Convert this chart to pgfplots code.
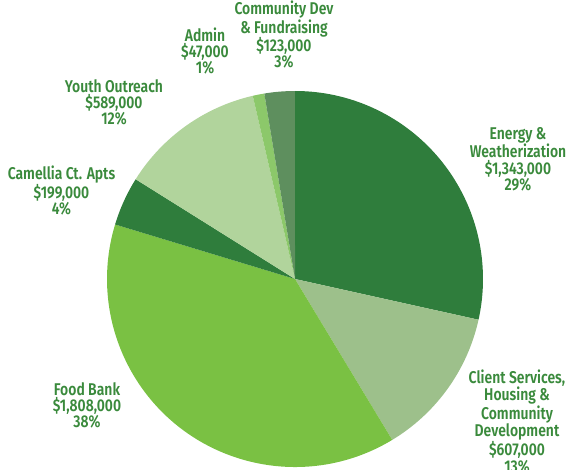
\documentclass[border=0pt]{standalone}
\usepackage{fontspec}
\setmainfont{Fira Sans}[FakeStretch=0.82, BoldFont={Fira Sans SemiBold}, BoldFeatures={FakeStretch=0.82}]
\usepackage{pgfplots}
\pgfplotsset{compat=1.18}
\definecolor{txt}{HTML}{3A8A3C}
\definecolor{cEnergy}{HTML}{2F7D3C}
\definecolor{cClient}{HTML}{9DC08B}
\definecolor{cFood}{HTML}{7AC143}
\definecolor{cCam}{HTML}{2F7D3C}
\definecolor{cYouth}{HTML}{B1D49C}
\definecolor{cAdmin}{HTML}{8CC86A}
\definecolor{cComm}{HTML}{5E8F5E}
% values in thousands of dollars
\def\vEnergy{1343}\def\vClient{607}\def\vFood{1808}\def\vCam{199}
\def\vYouth{589}\def\vAdmin{47}\def\vComm{123}
\pgfmathsetmacro\total{\vEnergy+\vClient+\vFood+\vCam+\vYouth+\vAdmin+\vComm}
\pgfmathsetmacro\aA{90}
\pgfmathsetmacro\aB{\aA-\vEnergy/\total*360}
\pgfmathsetmacro\aC{\aB-\vClient/\total*360}
\pgfmathsetmacro\aD{\aC-\vFood/\total*360}
\pgfmathsetmacro\aE{\aD-\vCam/\total*360}
\pgfmathsetmacro\aF{\aE-\vYouth/\total*360}
\pgfmathsetmacro\aG{\aF-\vAdmin/\total*360}
\pgfmathsetmacro\aH{\aG-\vComm/\total*360}
\newcommand\slice[3]{\fill[#3] (axis cs:295,190) -- (axis cs:{295+188*cos(#1)},{190+188*sin(#1)}) arc[start angle=#1, end angle=#2, radius=188pt] -- cycle;}
\begin{document}
\begin{tikzpicture}
\begin{axis}[x=1pt, y=1pt, xmin=0, xmax=569, ymin=0, ymax=469, hide axis, clip=false,
  scale only axis, anchor=origin, at={(0,0)}]
\path[use as bounding box] (axis cs:0,0) rectangle (axis cs:569,469);
\slice{\aA}{\aB}{cEnergy}
\slice{\aB}{\aC}{cClient}
\slice{\aC}{\aD}{cFood}
\slice{\aD}{\aE}{cCam}
\slice{\aE}{\aF}{cYouth}
\slice{\aF}{\aG}{cAdmin}
\slice{\aG}{\aH}{cComm}
\tikzset{lbl/.style={align=center, text=txt, font=\fontsize{17}{16}\selectfont\bfseries, inner sep=0pt, anchor=base}}
\node[lbl] at (axis cs:518,469-190) {Energy \&\\Weatherization\\\$1,343,000\\29\%};
\node[lbl, font=\fontsize{17}{17}\selectfont\bfseries] at (axis cs:517,469-472) {Client Services,\\Housing \&\\Community\\Development\\\$607,000\\13\%};
\node[lbl] at (axis cs:87,469-427) {Food Bank\\\$1,808,000\\38\%};
\node[lbl] at (axis cs:61.5,469-214) {Camellia Ct. Apts\\\$199,000\\4\%};
\node[lbl] at (axis cs:114,469-125) {Youth Outreach\\\$589,000\\12\%};
\node[lbl] at (axis cs:205,469-74) {Admin\\\$47,000\\1\%};
\node[lbl] at (axis cs:284,469-68) {Community Dev\\\& Fundraising\\\$123,000\\3\%};
\end{axis}
\end{tikzpicture}
\end{document}
